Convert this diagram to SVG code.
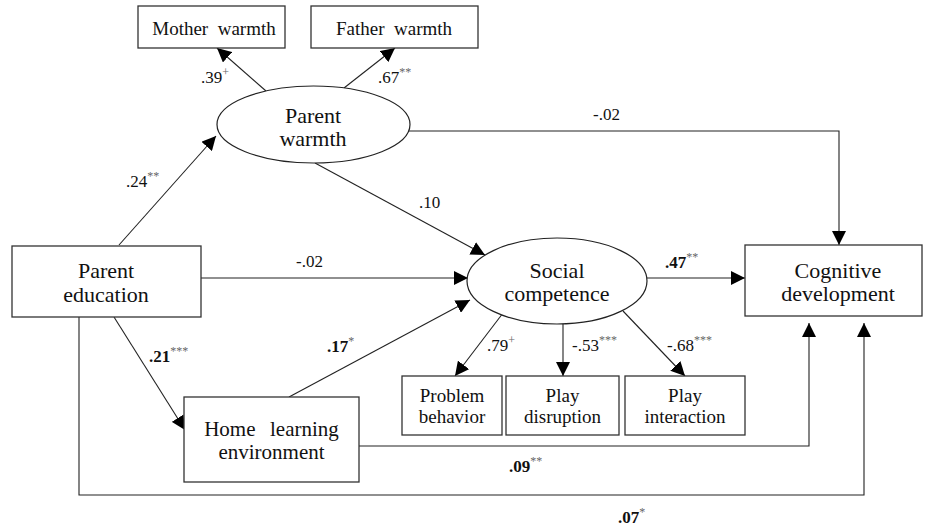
<svg xmlns="http://www.w3.org/2000/svg" width="925" height="529" viewBox="0 0 925 529" font-family="'Liberation Serif', 'DejaVu Serif', 'Times New Roman', serif">
<defs>
<marker id="ah" markerUnits="userSpaceOnUse" markerWidth="14" markerHeight="14" refX="14" refY="7" orient="auto" viewBox="0 0 14 14">
<path d="M0,0 L14,7 L0,14 z" fill="#000"/>
</marker>
</defs>
<style>
text{font-family:'Liberation Serif','DejaVu Serif','Times New Roman',serif;fill:#111;}
.box{fill:#fff;stroke:#333;stroke-width:1.3;}
.ell{fill:#fff;stroke:#222;stroke-width:1.2;}
.big{font-size:22px;text-anchor:middle;}
.hle{font-size:21px;text-anchor:middle;}
.mid{font-size:19px;text-anchor:middle;}
.lab{font-size:17px;}
.b{font-weight:bold;}
.sup{font-size:12px;fill:#666;font-weight:normal;}
.conn path{fill:none;stroke:#222;stroke-width:1.1;}
.arr{marker-end:url(#ah);}
</style>
<rect width="925" height="529" fill="#fff"/>
<g class="conn" id="connectors">
<path class="arr" d="M119,245 L216,136"/>
<path class="arr" d="M266,91 L217,48"/>
<path class="arr" d="M344,88 L395,48"/>
<path class="arr" d="M315,163 L485,255"/>
<path class="arr" d="M201,278 L468,278"/>
<path class="arr" d="M409,131 L839,131 L839,245"/>
<path class="arr" d="M647,278 L745,278"/>
<path class="arr" d="M501.5,315 L455,376"/>
<path class="arr" d="M563,324 L563,376"/>
<path class="arr" d="M623,311 L685,376"/>
<path class="arr" d="M114,317 L185,430"/>
<path class="arr" d="M289,397 L470,300"/>
<path class="arr" d="M359,446 L809,446 L809,323"/>
<path class="arr" d="M79,317 L79,495 L864,495 L864,323"/>
</g>
<g id="mother-warmth">
<rect class="box" x="138" y="6" width="147" height="42"/>
<text class="mid" x="214" y="35" xml:space="preserve">Mother  warmth</text>
</g>
<g id="father-warmth">
<rect class="box" x="311" y="6" width="167" height="42"/>
<text class="mid" x="394" y="35" xml:space="preserve">Father  warmth</text>
</g>
<g id="parent-warmth">
<ellipse class="ell" cx="313.5" cy="124.5" rx="96.5" ry="38.5"/>
<text class="big" x="313" y="123">Parent</text>
<text class="big" x="313" y="146">warmth</text>
</g>
<g id="parent-education">
<rect class="box" x="12" y="246" width="189" height="71"/>
<text class="big" x="106" y="278">Parent</text>
<text class="big" x="106" y="302">education</text>
</g>
<g id="social-competence">
<ellipse class="ell" cx="557" cy="281" rx="90" ry="43"/>
<text class="big" x="557" y="278">Social</text>
<text class="big" x="557" y="301">competence</text>
</g>
<g id="cognitive-development">
<rect class="box" x="745" y="245" width="177" height="71"/>
<text class="big" x="838" y="278">Cognitive</text>
<text class="big" x="838" y="301">development</text>
</g>
<g id="problem-behavior">
<rect class="box" x="402" y="376" width="100" height="59"/>
<text class="mid" x="452" y="402">Problem</text>
<text class="mid" x="452" y="423">behavior</text>
</g>
<g id="play-disruption">
<rect class="box" x="506" y="376" width="113" height="59"/>
<text class="mid" x="562.5" y="402">Play</text>
<text class="mid" x="562.5" y="423">disruption</text>
</g>
<g id="play-interaction">
<rect class="box" x="625" y="376" width="120" height="59"/>
<text class="mid" x="685" y="402">Play</text>
<text class="mid" x="685" y="423">interaction</text>
</g>
<g id="home-learning-environment">
<rect class="box" x="184" y="397" width="175" height="85"/>
<text class="hle" x="271.5" y="436" xml:space="preserve" word-spacing="2">Home  learning</text>
<text class="hle" x="271.5" y="459">environment</text>
</g>
<g id="labels">
<text class="lab" x="201" y="83">.39<tspan class="sup" dy="-7">+</tspan></text>
<text class="lab" x="378" y="83">.67<tspan class="sup" dy="-7">**</tspan></text>
<text class="lab" x="126" y="187">.24<tspan class="sup" dy="-7">**</tspan></text>
<text class="lab" x="419" y="208">.10</text>
<text class="lab" x="593" y="120">-.02</text>
<text class="lab" x="296" y="267">-.02</text>
<text class="lab b" x="665" y="268">.47<tspan class="sup" dy="-7">**</tspan></text>
<text class="lab b" x="149" y="362">.21<tspan class="sup" dy="-7">***</tspan></text>
<text class="lab b" x="327" y="352">.17<tspan class="sup" dy="-7">*</tspan></text>
<text class="lab" x="487" y="351">.79<tspan class="sup" dy="-7">+</tspan></text>
<text class="lab" x="572" y="351">-.53<tspan class="sup" dy="-7">***</tspan></text>
<text class="lab" x="667" y="351">-.68<tspan class="sup" dy="-7">***</tspan></text>
<text class="lab b" x="509" y="472">.09<tspan class="sup" dy="-7">**</tspan></text>
<text class="lab b" x="618" y="523">.07<tspan class="sup" dy="-7">*</tspan></text>
</g>
</svg>
